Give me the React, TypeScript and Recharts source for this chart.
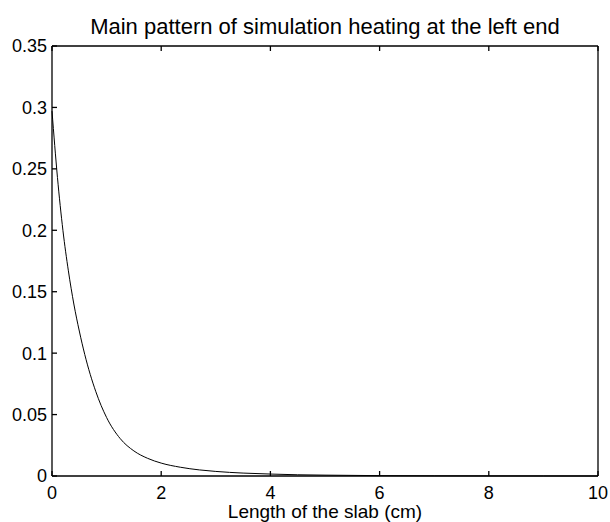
import { LineChart, Line, XAxis, YAxis } from 'recharts'

const slabX = [0, 0.1, 0.2, 0.3, 0.4, 0.5, 0.6, 0.8, 1.0, 1.25, 1.5, 1.75, 2, 2.35, 2.7, 3, 3.5, 4, 4.5, 5, 6, 7, 8, 9, 10]
const heat = [0.297, 0.243, 0.2, 0.167, 0.14, 0.118, 0.0989, 0.069, 0.0476, 0.0304, 0.0204, 0.0144, 0.0105, 0.00714, 0.00495, 0.00372, 0.00237, 0.00159, 0.001, 0.0007, 0.0003, 0.00015, 0.00007, 0.00003, 0.00001]
const xTicks = [0, 2, 4, 6, 8, 10]
const yTicks = [0, 0.05, 0.1, 0.15, 0.2, 0.25, 0.3, 0.35]

const data = slabX.map((x, i) => ({ x, y: heat[i] }))

const font = '"Liberation Sans", Arial, Helvetica, sans-serif'
const tickStyle = { fill: '#000', fontSize: 18, fontFamily: font }
const blank = () => ''

export default function App() {
  return (
    <div style={{ position: 'absolute', left: 0, top: 0, width: 610, height: 522, background: '#fff' }}>
      <div
        style={{
          position: 'absolute',
          left: 52,
          width: 546,
          top: 13,
          textAlign: 'center',
          fontFamily: font,
          fontSize: 22,
          lineHeight: '27px',
          color: '#000',
        }}
      >
        Main pattern of simulation heating at the left end
      </div>
      <LineChart width={610} height={522} data={data} margin={{ top: 45, right: 11, left: 0, bottom: 0 }}>
        <XAxis
          dataKey="x"
          type="number"
          domain={[0, 10]}
          ticks={xTicks}
          height={46}
          stroke="#000"
          strokeWidth={1.3}
          tickSize={-5}
          tickMargin={15}
          tick={tickStyle}
          label={{ value: 'Length of the slab (cm)', position: 'insideBottom', offset: 4, fill: '#000', fontSize: 19, fontFamily: font }}
        />
        <XAxis
          xAxisId="top"
          dataKey="x"
          type="number"
          domain={[0, 10]}
          ticks={xTicks}
          orientation="top"
          height={1}
          stroke="#000"
          strokeWidth={1.3}
          tickSize={-5}
          tickFormatter={blank}
        />
        <YAxis
          type="number"
          domain={[0, 0.35]}
          ticks={yTicks}
          width={52}
          stroke="#000"
          strokeWidth={1.3}
          tickSize={-5}
          tickMargin={10}
          tick={tickStyle}
        />
        <YAxis
          yAxisId="right"
          type="number"
          domain={[0, 0.35]}
          ticks={yTicks}
          orientation="right"
          width={1}
          stroke="#000"
          strokeWidth={1.3}
          tickSize={-5}
          tickFormatter={blank}
        />
        <Line type="monotone" dataKey="y" stroke="#000" strokeWidth={1} dot={false} isAnimationActive={false} />
      </LineChart>
    </div>
  )
}
